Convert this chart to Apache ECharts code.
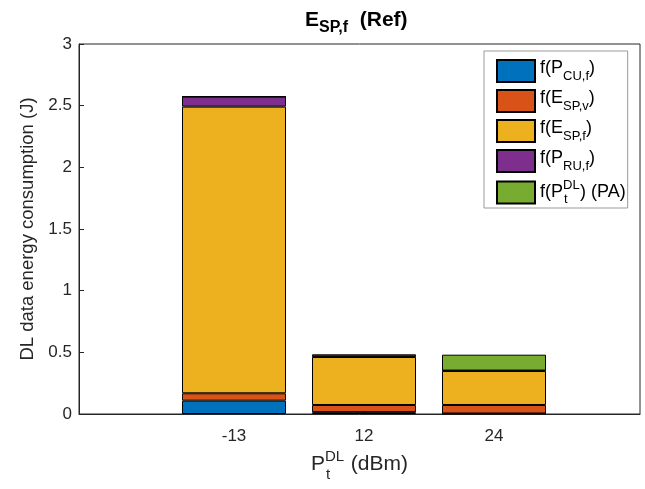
<!DOCTYPE html>
<html><head><meta charset="utf-8">
<script src="https://cdn.jsdelivr.net/npm/echarts@6/dist/echarts.min.js"></script>
<style>html,body{margin:0;padding:0;background:#fff}#c{width:645px;height:489px}</style>
</head><body><div id="c"></div>
<script>
// ---- data ----
const categories = ['-13', '12', '24'];
const seriesNames = ['f(P_CU,f)', 'f(E_SP,v)', 'f(E_SP,f)', 'f(P_RU,f)', 'f(P_t^DL) (PA)'];
const pCU  = [0.108, 0.015, 0.004];
const eSPv = [0.060, 0.058, 0.069];
const eSPf = [2.324, 0.389, 0.276];
const pRU  = [0.081, 0.005, 0.003];
const paDL = [0.000, 0.017, 0.129];
const yTickValues = [0, 0.5, 1, 1.5, 2, 2.5, 3];
const legendLabels = [
  '{n|f(P}{s|CU,f}{n|)}',
  '{n|f(E}{s|SP,v}{n|)}',
  '{n|f(E}{s|SP,f}{n|)}',
  '{n|f(P}{s|RU,f}{n|)}',
  '{m|f(P}{sz|DL}{sw|t}{m|) (PA)}'
];
const colors = ['#0072BD', '#D95319', '#EDB120', '#7E2F8E', '#77AC30'];
const allValues = [pCU, eSPv, eSPf, pRU, paDL];

const FONT = '"Liberation Sans", Arial, Helvetica, sans-serif';
const INK = '#262626';

const legendRich = {
  n:  { fontSize: 18, fontFamily: FONT, color: '#000', verticalAlign: 'top', align: 'left', padding: [0, 0, 0, 0] },
  s:  { fontSize: 13, fontFamily: FONT, color: '#000', verticalAlign: 'top', align: 'left', padding: [10, 0, 0, 0] },
  m:  { fontSize: 18, fontFamily: FONT, color: '#000', verticalAlign: 'top', align: 'left', padding: [4, 0, 0, 0] },
  sz: { fontSize: 13, fontFamily: FONT, color: '#000', verticalAlign: 'top', align: 'left', padding: [0, 0, 0, 0], width: 1 },
  sw: { fontSize: 13, fontFamily: FONT, color: '#000', verticalAlign: 'top', align: 'left', padding: [14, 0, 0, 0], width: 16 }
};

const chart = echarts.init(document.getElementById('c'), null, { renderer: 'canvas' });
chart.setOption({
  animation: false,
  backgroundColor: '#fff',
  title: {
    text: '{b|E}{s|SP,f}{b|  (Ref)}',
    left: 305, top: 10, padding: 0,
    textStyle: {
      rich: {
        b: { fontSize: 21, fontWeight: 'bold', fontFamily: FONT, color: '#000', verticalAlign: 'top', padding: [0, 0, 0, 0] },
        s: { fontSize: 16, fontWeight: 'bold', fontFamily: FONT, color: '#000', verticalAlign: 'top', padding: [10, 0, 0, 0] }
      }
    }
  },
  grid: [
    { left: 79, right: 5, top: 44, bottom: 75, show: true, borderColor: INK, borderWidth: 1, backgroundColor: '#fff' },
    { left: 169, right: 86, top: 44, bottom: 75 }
  ],
  legend: {
    data: seriesNames,
    orient: 'vertical',
    left: 484, top: 51,
    padding: [8, 2, 2, 12],
    itemWidth: 38, itemHeight: 22, itemGap: 6,
    borderColor: '#9a9a9a', borderWidth: 1, backgroundColor: '#fff',
    icon: 'rect',
    formatter: name => legendLabels[seriesNames.indexOf(name)],
    textStyle: { rich: legendRich }
  },
  xAxis: [
    {
      type: 'value', gridIndex: 0, min: 0, max: 1,
      splitLine: { show: false },
      axisLine: { show: true, lineStyle: { color: INK } },
      axisTick: { show: false },
      axisLabel: { show: false },
      name: '{n|P}{sz|DL}{sw|t}{n| (dBm)}',
      nameLocation: 'middle', nameGap: 34,
      nameTextStyle: {
        rich: {
          n:  { fontSize: 21, fontFamily: FONT, color: INK, verticalAlign: 'top', align: 'left', padding: [6, 0, 0, 0] },
          sz: { fontSize: 15, fontFamily: FONT, color: INK, verticalAlign: 'top', align: 'left', padding: [1, 0, 0, 0], width: 1 },
          sw: { fontSize: 15, fontFamily: FONT, color: INK, verticalAlign: 'top', align: 'left', padding: [19, 0, 0, 0], width: 19 }
        }
      }
    },
    {
      type: 'category', gridIndex: 1, data: categories,
      axisLine: { show: false },
      axisTick: { show: true, inside: true, length: 5, alignWithLabel: true, lineStyle: { color: INK } },
      axisLabel: { fontSize: 17, fontFamily: FONT, color: INK, margin: 14 },
      splitLine: { show: false }
    }
  ],
  yAxis: [
    {
      type: 'value', gridIndex: 0,
      min: yTickValues[0], max: yTickValues[yTickValues.length - 1], interval: 0.5,
      splitLine: { show: false },
      axisLine: { show: true, onZero: false, lineStyle: { color: INK } },
      axisTick: { show: true, inside: true, length: 5, lineStyle: { color: INK } },
      axisLabel: { fontSize: 17, fontFamily: FONT, color: INK, margin: 7 },
      name: 'DL data energy consumption (J)',
      nameLocation: 'middle', nameGap: 41,
      nameTextStyle: { fontSize: 18.5, fontFamily: FONT, color: INK }
    },
    {
      type: 'value', gridIndex: 1,
      min: yTickValues[0], max: yTickValues[yTickValues.length - 1],
      show: false, splitLine: { show: false }
    }
  ],
  series: seriesNames.map((nm, k) => ({
    name: nm,
    type: 'bar',
    stack: 'total',
    xAxisIndex: 1, yAxisIndex: 1,
    barWidth: 104,
    itemStyle: { color: colors[k], borderColor: '#000', borderWidth: 1 },
    data: allValues[k]
  }))
});
</script></body></html>
